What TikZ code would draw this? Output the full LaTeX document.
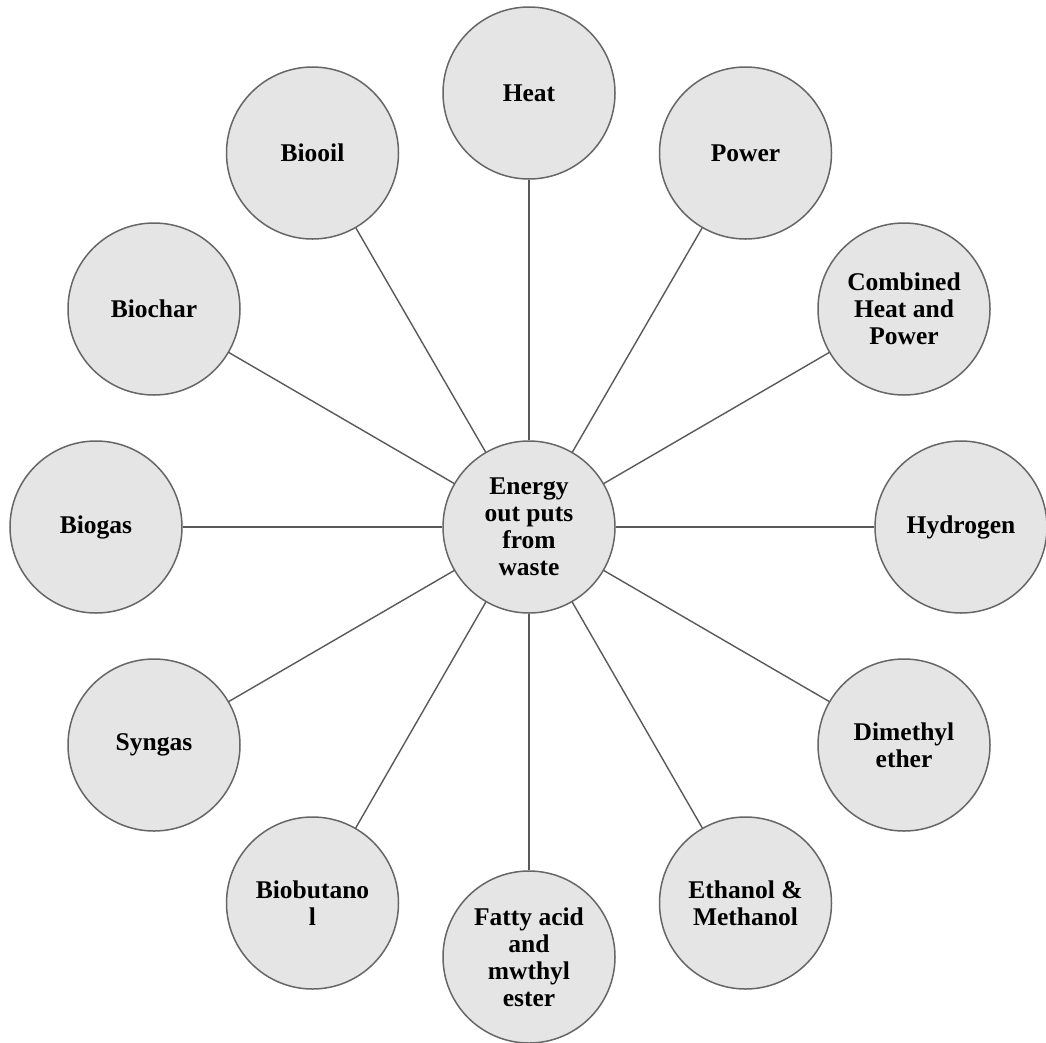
\documentclass[tikz,border=0pt]{standalone}
\usepackage{fontspec}
\setmainfont{Liberation Serif}
\begin{document}
\begin{tikzpicture}[x=1pt,y=-1pt,
  bub/.style={circle,draw=black!60,line width=1.5pt,fill=black!10,minimum size=172pt,inner sep=0pt,align=center,font=\fontsize{25.5}{27}\selectfont\bfseries},
  link/.style={draw=black!65,line width=1.4pt}]
\useasboundingbox (0,0) rectangle (1046,1042);
\node[bub] (c) at (529,527) {Energy\\out puts\\from\\waste};
\node[bub] (heat) at (529,93) {Heat};
\node[bub] (power) at (745.5,153) {Power};
\node[bub] (chp) at (904,309) {Combined\\Heat and\\Power};
\node[bub] (hyd) at (961,527) {Hydrogen};
\node[bub] (dme) at (904,745) {Dimethyl\\ether};
\node[bub] (eth) at (745.5,903) {Ethanol \&\\Methanol};
\node[bub] (fat) at (529,957) {Fatty acid\\and\\mwthyl\\ester};
\node[bub] (bbu) at (312.5,903) {Biobutano\\l};
\node[bub] (syn) at (154,745) {Syngas};
\node[bub] (bgas) at (96,527) {Biogas};
\node[bub] (bchar) at (154,309) {Biochar};
\node[bub] (boil) at (312.5,153) {Biooil};
\foreach \n in {heat,power,chp,hyd,dme,eth,fat,bbu,syn,bgas,bchar,boil}
  \draw[link] (c) -- (\n);
\end{tikzpicture}
\end{document}
